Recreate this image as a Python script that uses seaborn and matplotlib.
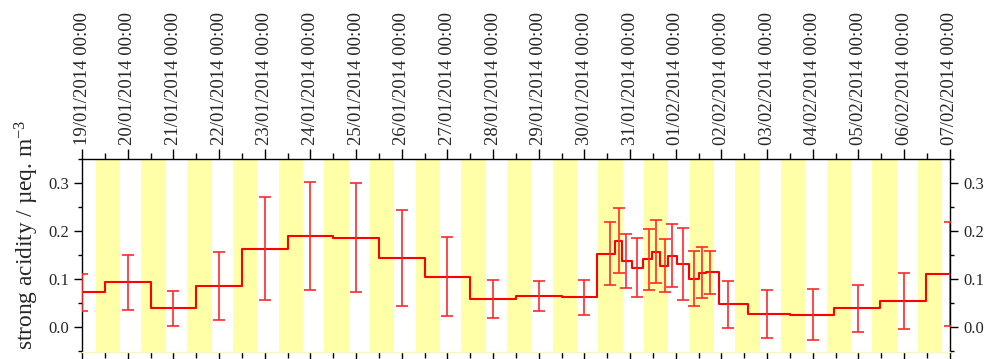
import matplotlib
matplotlib.use("Agg")
import matplotlib.pyplot as plt
import matplotlib.dates as mdates
from matplotlib.ticker import MultipleLocator, FormatStrFormatter
import pandas as pd
import seaborn as sns

# Filter sampling intervals: start of each sample (the final interval closes at sample_end)
interval_start = [
    "2014-01-18 12:00", "2014-01-19 12:00", "2014-01-20 12:00", "2014-01-21 12:00",
    "2014-01-22 12:00", "2014-01-23 12:00", "2014-01-24 12:00", "2014-01-25 12:00",
    "2014-01-26 12:00", "2014-01-27 12:00", "2014-01-28 12:00", "2014-01-29 12:00",
    "2014-01-30 06:50", "2014-01-30 16:15", "2014-01-30 19:35", "2014-01-31 01:00",
    "2014-01-31 06:50", "2014-01-31 11:45", "2014-01-31 15:45", "2014-01-31 19:50",
    "2014-02-01 00:50", "2014-02-01 06:50", "2014-02-01 12:05", "2014-02-01 15:50",
    "2014-02-01 22:45", "2014-02-02 13:50", "2014-02-03 12:05", "2014-02-04 11:20",
    "2014-02-05 11:30", "2014-02-06 11:40",
]
sample_end = "2014-02-07 12:00"

# Time at which each sample's uncertainty is plotted
sample_time = [
    "2014-01-19 00:00", "2014-01-20 00:00", "2014-01-21 00:00", "2014-01-22 00:00",
    "2014-01-23 00:00", "2014-01-24 00:00", "2014-01-25 00:00", "2014-01-26 00:00",
    "2014-01-27 00:00", "2014-01-28 00:00", "2014-01-29 00:00", "2014-01-30 00:00",
    "2014-01-30 13:40", "2014-01-30 18:00", "2014-01-30 21:45", "2014-01-31 03:50",
    "2014-01-31 09:50", "2014-01-31 13:50", "2014-01-31 18:15", "2014-01-31 21:55",
    "2014-02-01 04:00", "2014-02-01 09:30", "2014-02-01 14:00", "2014-02-01 17:50",
    "2014-02-02 03:40", "2014-02-03 00:00", "2014-02-04 00:00", "2014-02-05 00:00",
    "2014-02-06 00:00", "2014-02-07 00:00",
]

# Strong acidity (µeq m-3) and its uncertainty
acidity = [
    0.072, 0.093, 0.039, 0.085, 0.163, 0.190, 0.186, 0.144, 0.105, 0.059,
    0.064, 0.062, 0.153, 0.180, 0.137, 0.124, 0.141, 0.157, 0.128, 0.149,
    0.132, 0.101, 0.113, 0.114, 0.047, 0.028, 0.026, 0.039, 0.054, 0.111,
]
acidity_err = [
    0.039, 0.058, 0.037, 0.071, 0.107, 0.113, 0.114, 0.100, 0.082, 0.040,
    0.031, 0.037, 0.066, 0.067, 0.056, 0.061, 0.064, 0.066, 0.055, 0.066,
    0.075, 0.057, 0.053, 0.045, 0.048, 0.050, 0.053, 0.049, 0.058, 0.108,
]

# Daylight hours shaded on each day
day_first = "2014-01-18"
day_last = "2014-02-07"
daylight_on = pd.Timedelta(hours=7, minutes=15)
daylight_off = pd.Timedelta(hours=20, minutes=10)

sns.set_style("ticks")
plt.rcParams["font.family"] = ["Liberation Serif", "DejaVu Serif"]
plt.rcParams["mathtext.default"] = "regular"

steps = pd.DataFrame({
    "time": pd.to_datetime(interval_start + [sample_end]),
    "acidity": acidity + [acidity[-1]],
})
bars = pd.DataFrame({
    "time": pd.to_datetime(sample_time),
    "acidity": acidity,
    "err": acidity_err,
})

fig = plt.figure(figsize=(9.86, 3.59), dpi=100)
ax = fig.add_axes([0.0832, 0.0195, 0.9632 - 0.0832, 0.557 - 0.0195])

for day in pd.date_range(day_first, day_last, freq="D"):
    ax.axvspan(day + daylight_on, day + daylight_off, color="#ffffa8", lw=0, zorder=0)

sns.lineplot(data=steps, x="time", y="acidity", drawstyle="steps-post",
             color="#ff0000", lw=1.5, errorbar=None, ax=ax, zorder=3)
ax.errorbar(bars["time"], bars["acidity"], yerr=bars["err"], fmt="none",
            ecolor="#ff2a2a", elinewidth=1.2, capsize=4, capthick=1.2, zorder=4)

ax.set_xlim(pd.Timestamp("2014-01-19 00:00"), pd.Timestamp("2014-02-07 00:00"))
ax.set_ylim(-0.052, 0.35)

ax.xaxis.set_major_locator(mdates.DayLocator())
ax.xaxis.set_minor_locator(mdates.HourLocator(byhour=12))
ax.xaxis.set_major_formatter(mdates.DateFormatter("%d/%m/%Y %H:%M"))
ax.tick_params(axis="x", which="both", top=True, bottom=True, labeltop=True,
               labelbottom=False, direction="out", labelrotation=90,
               labelsize=13.5, pad=3, width=1, color="black")
ax.tick_params(axis="x", which="major", length=7)
ax.tick_params(axis="x", which="minor", length=4)

ax.yaxis.set_major_locator(MultipleLocator(0.1))
ax.yaxis.set_minor_locator(MultipleLocator(0.05))
ax.yaxis.set_major_formatter(FormatStrFormatter("%.1f"))
ax.tick_params(axis="y", which="both", left=True, right=True, labelleft=True,
               labelright=True, direction="out", labelsize=12, width=1, color="black")
ax.tick_params(axis="y", which="major", length=6)
ax.tick_params(axis="y", which="minor", length=3)

ax.set_xlabel("")
ax.set_ylabel("strong acidity / µeq. m$^{-3}$", fontsize=16.8)
ax.yaxis.set_label_coords(-0.047, 0.61)

for side in ("left", "right", "top"):
    ax.spines[side].set_color("black")
    ax.spines[side].set_linewidth(1)
    ax.spines[side].set_visible(True)
ax.spines["bottom"].set_color("#f6f6c8")
ax.spines["bottom"].set_linewidth(1)

fig.savefig("out.png", dpi=100)
